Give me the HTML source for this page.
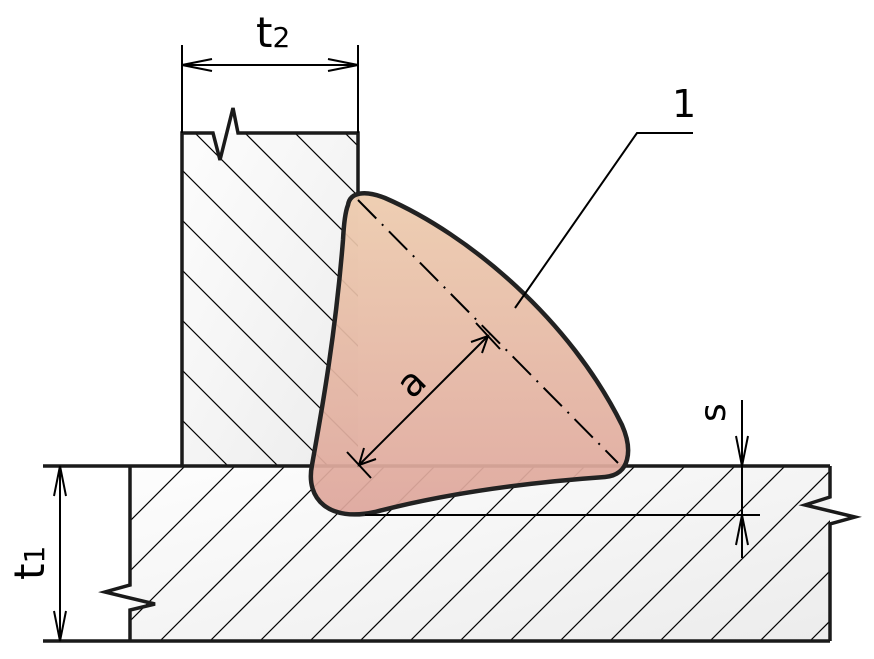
<!DOCTYPE html>
<html><head><meta charset="utf-8"><style>html,body{margin:0;padding:0;background:#fff;width:874px;height:659px;overflow:hidden}svg{display:block}</style></head><body>
<svg width="874" height="659" viewBox="0 0 874 659" xmlns="http://www.w3.org/2000/svg">
<defs>
<linearGradient id="pg" x1="0" y1="0" x2="1" y2="1"><stop offset="0" stop-color="#fdfdfd"/><stop offset="1" stop-color="#ececec"/></linearGradient>
<linearGradient id="wg" x1="0" y1="0" x2="0" y2="1"><stop offset="0" stop-color="#edcbad"/><stop offset="1" stop-color="#dea69c"/></linearGradient>
<clipPath id="cv"><rect x="182" y="133" width="176" height="333"/></clipPath>
<clipPath id="ch"><rect x="130" y="466" width="700" height="175"/></clipPath>
</defs>
<rect x="182" y="133" width="176" height="333" fill="url(#pg)"/>
<g clip-path="url(#cv)" stroke="#000" stroke-width="1.2">
<line x1="182" y1="70" x2="600" y2="488"/><line x1="182" y1="120" x2="600" y2="538"/>
<line x1="182" y1="170" x2="600" y2="588"/><line x1="182" y1="220" x2="600" y2="638"/>
<line x1="182" y1="270" x2="600" y2="688"/><line x1="182" y1="320" x2="600" y2="738"/>
<line x1="182" y1="370" x2="600" y2="788"/><line x1="182" y1="420" x2="600" y2="838"/>
<line x1="182" y1="20" x2="600" y2="438"/><line x1="182" y1="-30" x2="600" y2="388"/>
</g>
<rect x="130" y="466" width="700" height="175" fill="url(#pg)"/>
<g clip-path="url(#ch)" stroke="#000" stroke-width="1.2">
<line x1="130" y1="521" x2="330" y2="321"/><line x1="130" y1="571" x2="380" y2="321"/>
<line x1="130" y1="621" x2="430" y2="321"/><line x1="130" y1="671" x2="480" y2="321"/>
<line x1="180" y1="671" x2="530" y2="321"/><line x1="230" y1="671" x2="580" y2="321"/>
<line x1="280" y1="671" x2="630" y2="321"/><line x1="330" y1="671" x2="680" y2="321"/>
<line x1="380" y1="671" x2="730" y2="321"/><line x1="430" y1="671" x2="780" y2="321"/>
<line x1="480" y1="671" x2="830" y2="321"/><line x1="530" y1="671" x2="880" y2="321"/>
<line x1="580" y1="671" x2="930" y2="321"/><line x1="630" y1="671" x2="980" y2="321"/>
<line x1="680" y1="671" x2="1030" y2="321"/><line x1="730" y1="671" x2="1080" y2="321"/>
<line x1="780" y1="671" x2="1130" y2="321"/>
</g>
<g stroke="#1a1a1a" stroke-width="3.5" fill="none" stroke-linejoin="miter">
<polyline points="182,466 182,133 213,133 220,160 233,108 238,133 358,133 358,200"/>
<line x1="43" y1="466" x2="830" y2="466"/>
<line x1="43" y1="641" x2="830" y2="641"/>
<polyline points="130,466 130,585 105,592 155,604 130,610 130,641"/>
<polyline points="830,466 830,497 805,505 855,517 830,524 830,641"/>
</g>
<path d="M348,205 C350,192 365,190 385,198 C470,235 570,320 622,425 C633,450 630,475 605,477 C520,483 440,495 375,512 C330,522 305,500 312,465 C320,420 335,340 343,240 C344,220 346,210 348,205 Z" fill="url(#wg)" fill-opacity="0.93" stroke="#222" stroke-width="4.5"/>
<g stroke="#000" stroke-width="2" fill="none">
<line x1="358" y1="200" x2="618" y2="463" stroke-dasharray="26,8,2,8"/>
<line x1="359" y1="465" x2="488" y2="336"/>
<line x1="347" y1="452" x2="371" y2="478"/><line x1="476" y1="323" x2="500" y2="349"/>
<polyline points="364,448 359,465 376,459"/><polyline points="471,342 488,336 482,353"/>
<polyline points="515,308 637,133 693,133"/>
<line x1="182" y1="45" x2="182" y2="133"/><line x1="358" y1="45" x2="358" y2="133"/>
<line x1="182" y1="65" x2="358" y2="65"/>
<polyline points="212,59 182,65 212,71"/><polyline points="328,59 358,65 328,71"/>
<line x1="60" y1="466" x2="60" y2="641"/>
<polyline points="54,496 60,466 66,496"/><polyline points="54,611 60,641 66,611"/>
<line x1="365" y1="515" x2="760" y2="515"/>
<line x1="742" y1="400" x2="742" y2="558"/>
<polyline points="736,436 742,466 748,436"/><polyline points="736,545 742,515 748,545"/>
</g>
<g font-family="DejaVu Sans, Liberation Sans, sans-serif" fill="#000">
<text x="256" y="47" font-size="42">t<tspan font-size="28">2</tspan></text>
<text x="672" y="117" font-size="38">1</text>
<text transform="translate(44,580) rotate(-90)" font-size="42">t<tspan font-size="28">1</tspan></text>
<text transform="translate(412,400) rotate(-45)" font-size="38">a</text>
<text transform="translate(725,422) rotate(-90)" font-size="36">s</text>
</g>
</svg>
</body></html>
